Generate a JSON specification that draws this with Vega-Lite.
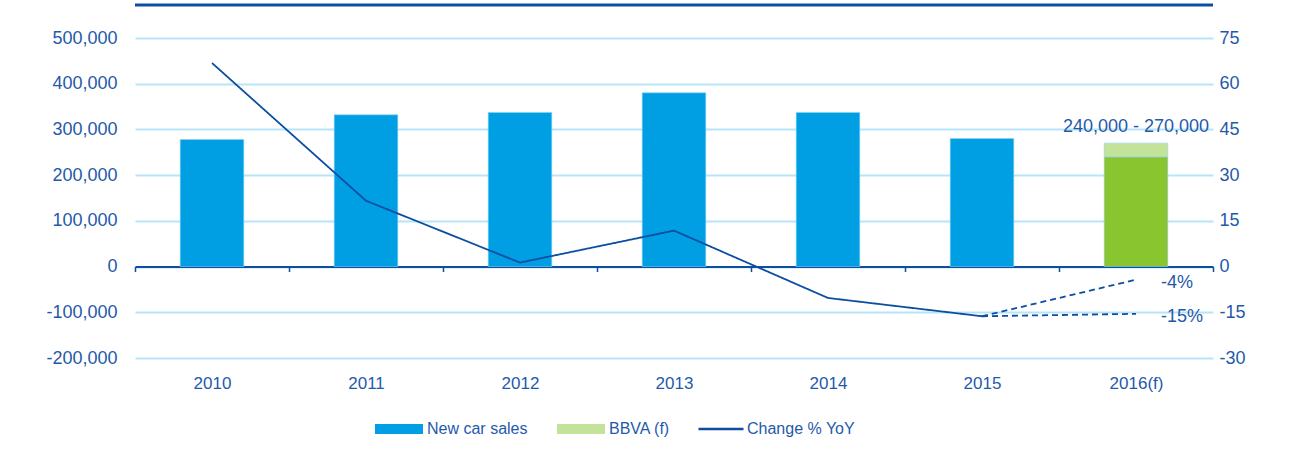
{
  "$schema": "https://vega.github.io/schema/vega-lite/v6.json",
  "autosize": "none",
  "width": 1078,
  "height": 320,
  "padding": {"left": 135, "top": 38, "right": 83, "bottom": 106},
  "background": "white",
  "config": {
    "font": "Liberation Sans",
    "view": {"stroke": null},
    "axis": {"labelFont": "Liberation Sans", "labelFontSize": 18, "labelColor": "#1F5AAA"}
  },
  "datasets": {
    "bars": [
      {"year": "2010", "low": 0, "high": 278000, "series": "New car sales"},
      {"year": "2011", "low": 0, "high": 332000, "series": "New car sales"},
      {"year": "2012", "low": 0, "high": 337000, "series": "New car sales"},
      {"year": "2013", "low": 0, "high": 380000, "series": "New car sales"},
      {"year": "2014", "low": 0, "high": 337000, "series": "New car sales"},
      {"year": "2015", "low": 0, "high": 280000, "series": "New car sales"},
      {"year": "2016(f)", "low": 0, "high": 240000, "series": "BBVA base"},
      {"year": "2016(f)", "low": 240000, "high": 270000, "series": "BBVA (f)"}
    ],
    "change": [
      {"year": "2010", "pct": 66.8, "seg": "actual", "dash": "solid", "series": "Change % YoY"},
      {"year": "2011", "pct": 21.6, "seg": "actual", "dash": "solid", "series": "Change % YoY"},
      {"year": "2012", "pct": 1.3, "seg": "actual", "dash": "solid", "series": "Change % YoY"},
      {"year": "2013", "pct": 11.8, "seg": "actual", "dash": "solid", "series": "Change % YoY"},
      {"year": "2014", "pct": -10.3, "seg": "actual", "dash": "solid", "series": "Change % YoY"},
      {"year": "2015", "pct": -16.3, "seg": "actual", "dash": "solid", "series": "Change % YoY"},
      {"year": "2015", "pct": -16.3, "seg": "high", "dash": "dashed", "series": "Change % YoY"},
      {"year": "2016(f)", "pct": -4.3, "seg": "high", "dash": "dashed", "series": "Change % YoY"},
      {"year": "2015", "pct": -16.3, "seg": "low", "dash": "dashed", "series": "Change % YoY"},
      {"year": "2016(f)", "pct": -15.5, "seg": "low", "dash": "dashed", "series": "Change % YoY"}
    ],
    "pctlabels": [
      {"year": "2016(f)", "pct": -4.3, "label": "-4%"},
      {"year": "2016(f)", "pct": -15.5, "label": "-15%"}
    ],
    "rangelabel": [
      {"year": "2016(f)", "value": 306000, "label": "240,000 - 270,000"}
    ],
    "topline": [
      {"value": 572000}
    ]
  },
  "layer": [
    {
      "layer": [
        {
          "data": {"name": "bars"},
          "mark": {"type": "bar", "stroke": "#8FD3F2", "strokeWidth": 0.6, "width": {"band": 0.413}},
          "encoding": {
            "x": {
              "field": "year", "type": "ordinal", "title": null,
              "sort": ["2010","2011","2012","2013","2014","2015","2016(f)"],
              "scale": {"paddingInner": 0, "paddingOuter": 0},
              "axis": {
                "offset": -91.43, "tickBand": "extent", "tickSize": 5, "tickColor": "#0B4EA2",
                "domainColor": "#0B4EA2", "domainWidth": 2, "tickWidth": 1.5,
                "labelPadding": 104, "labelAngle": 0, "labelFontSize": 17, "grid": false
              }
            },
            "y": {
              "field": "high", "type": "quantitative", "title": null,
              "scale": {"domain": [-200000, 500000], "nice": false, "zero": false},
              "axis": {
                "values": [-200000,-100000,0,100000,200000,300000,400000,500000],
                "format": ",d", "labelExpr": "replace(datum.label, '\u2212', '-')",
                "domain": false, "ticks": false, "labelPadding": 18,
                "grid": true, "gridColor": "#B8E4F8", "gridWidth": 2
              }
            },
            "y2": {"field": "low"},
            "color": {
              "field": "series", "type": "nominal",
              "scale": {
                "domain": ["New car sales", "BBVA (f)", "BBVA base"],
                "range": ["#009FE3", "#C3E39A", "#89C52F"]
              },
              "legend": {
                "values": ["New car sales", "BBVA (f)"],
                "title": null, "orient": "none", "direction": "horizontal",
                "legendX": 240, "legendY": 367,
                "labelFont": "Liberation Sans", "labelFontSize": 16, "labelColor": "#1F5AAA",
                "symbolType": "M-1,-0.21H1V0.21H-1Z",
                "symbolSize": 2304, "symbolStrokeWidth": 0, "symbolOpacity": 1,
                "columnPadding": 29, "labelOffset": 4, "labelLimit": 200
              }
            }
          }
        },
        {
          "data": {"name": "topline"},
          "mark": {"type": "rule", "color": "#0B4EA2", "strokeWidth": 3},
          "encoding": {"y": {"field": "value", "type": "quantitative"}}
        },
        {
          "data": {"name": "rangelabel"},
          "mark": {"type": "text", "fontSize": 18, "color": "#1F5AAA", "baseline": "middle", "font": "Liberation Sans"},
          "encoding": {
            "x": {"field": "year", "type": "ordinal", "sort": ["2010","2011","2012","2013","2014","2015","2016(f)"]},
            "y": {"field": "value", "type": "quantitative"},
            "text": {"field": "label"}
          }
        }
      ]
    },
    {
      "layer": [
        {
          "data": {"name": "change"},
          "mark": {"type": "line", "strokeWidth": 1.8},
          "encoding": {
            "x": {"field": "year", "type": "ordinal", "sort": ["2010","2011","2012","2013","2014","2015","2016(f)"]},
            "y": {
              "field": "pct", "type": "quantitative", "title": null,
              "scale": {"domain": [-30, 75], "nice": false, "zero": false},
              "axis": {
                "orient": "right", "values": [-30,-15,0,15,30,45,60,75],
                "labelExpr": "replace(datum.label, '\u2212', '-')",
                "domain": false, "ticks": false, "labelPadding": 6, "grid": false
              }
            },
            "color": {
              "field": "series", "type": "nominal",
              "scale": {"domain": ["Change % YoY"], "range": ["#0B4EA2"]},
              "legend": {
                "title": null, "orient": "none", "direction": "horizontal",
                "legendX": 562, "legendY": 367,
                "labelFont": "Liberation Sans", "labelFontSize": 16, "labelColor": "#1F5AAA",
                "symbolType": "stroke", "symbolSize": 2025, "symbolStrokeWidth": 2.5,
                "labelOffset": 2, "labelLimit": 200
              }
            },
            "detail": {"field": "seg"},
            "strokeDash": {
              "field": "dash", "type": "nominal",
              "scale": {"domain": ["solid", "dashed"], "range": [[1, 0], [6, 4]]},
              "legend": null
            }
          }
        },
        {
          "data": {"name": "pctlabels"},
          "mark": {"type": "text", "fontSize": 18, "color": "#1F5AAA", "align": "left", "baseline": "middle", "dx": 25, "dy": 3, "font": "Liberation Sans"},
          "encoding": {
            "x": {"field": "year", "type": "ordinal", "sort": ["2010","2011","2012","2013","2014","2015","2016(f)"]},
            "y": {"field": "pct", "type": "quantitative"},
            "text": {"field": "label"}
          }
        }
      ]
    }
  ],
  "resolve": {"scale": {"y": "independent", "color": "independent"}, "axis": {"y": "independent"}}
}
